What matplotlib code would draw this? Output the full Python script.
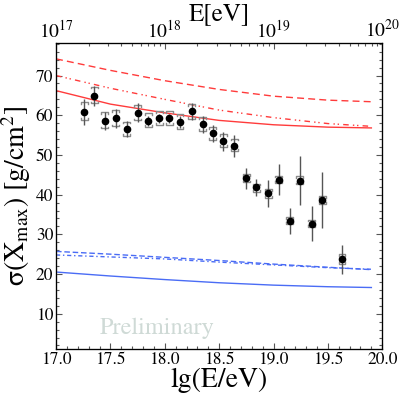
import matplotlib
matplotlib.use("Agg")
import matplotlib.pyplot as plt
import numpy as np
from matplotlib.ticker import MultipleLocator, FixedLocator, NullFormatter

plt.rcParams['font.family'] = ['STIXGeneral', 'DejaVu Serif']
plt.rcParams['mathtext.fontset'] = 'stix'

# ---- data ----
lgE = [17.26, 17.35, 17.45, 17.55, 17.65, 17.75, 17.85, 17.95, 18.04, 18.14,
       18.25, 18.35, 18.44, 18.54, 18.64, 18.75, 18.84, 18.95, 19.05, 19.15,
       19.24, 19.35, 19.45, 19.63]
sigma = [60.8, 64.9, 58.6, 59.2, 56.5, 60.6, 58.6, 59.2, 59.2, 58.3,
         61.0, 57.7, 55.4, 53.4, 52.3, 44.1, 41.8, 40.3, 43.8, 33.4,
         43.5, 32.7, 38.6, 23.7]
stat = [3.2, 2.5, 2.3, 2.3, 2.0, 2.4, 1.2, 1.2, 1.2, 1.5,
        2.1, 2.1, 2.1, 2.5, 2.7, 2.7, 2.2, 3.3, 4.0, 3.2,
        6.2, 4.5, 7.0, 3.6]
sys_up = [2.5, 2.3, 2.1, 2.0, 1.9, 2.0, 1.9, 1.9, 1.9, 1.9,
          1.9, 1.9, 1.7, 1.9, 1.8, 1.1, 1.0, 1.0, 1.0, 1.0,
          1.1, 1.0, 1.0, 1.3]
sys_lo = [1.9, 1.9, 1.9, 2.0, 1.7, 1.9, 1.5, 1.7, 1.7, 1.7,
          1.9, 1.7, 1.7, 1.4, 1.2, 1.0, 1.1, 1.1, 0.9, 0.8,
          0.9, 0.9, 0.9, 1.1]

model_lgE = [17.0, 17.5, 18.0, 18.5, 19.0, 19.5, 19.9]
p_solid = [66.2, 62.8, 60.6, 58.7, 57.6, 57.0, 56.8]
p_dashed = [74.2, 71.3, 68.7, 66.5, 64.8, 63.8, 63.4]
p_dashdot = [70.0, 66.8, 64.0, 61.3, 59.4, 57.9, 57.2]
fe_solid = [20.5, 19.5, 18.6, 17.8, 17.2, 16.8, 16.6]
fe_dashed = [25.7, 25.0, 24.2, 23.4, 22.5, 21.7, 21.1]
fe_dashdot = [24.8, 24.3, 23.8, 23.0, 22.3, 21.6, 21.2]

top_ticks = [17, 18, 19, 20]
top_labels = [r'$10^{17}$', r'$10^{18}$', r'$10^{19}$', r'$10^{20}$']

fig = plt.figure(figsize=(3.99, 3.98), dpi=100)
ax = fig.add_axes([0.1404, 0.123, 0.958 - 0.1404, 0.893 - 0.123])

red = '#ff3b3b'
blue = '#4a6cf5'
lw = 1.0
ax.plot(model_lgE, p_solid, color=red, lw=lw)
ax.plot(model_lgE, p_dashed, color=red, lw=lw, dashes=(5, 3))
ax.plot(model_lgE, p_dashdot, color=red, lw=lw, dashes=(4, 3, 1, 2, 1, 3))
ax.plot(model_lgE, fe_solid, color=blue, lw=lw)
ax.plot(model_lgE, fe_dashed, color=blue, lw=lw, dashes=(4, 2))
ax.plot(model_lgE, fe_dashdot, color=blue, lw=lw, dashes=(3, 2, 1, 2))

# systematic brackets
w = 0.032
h = 0.45
for x, y, su, sl in zip(lgE, sigma, sys_up, sys_lo):
    ax.plot([x - w, x - w, x + w, x + w], [y + su - h, y + su, y + su, y + su - h],
            color='#8a8a8a', lw=1.0, zorder=3)
    ax.plot([x - w, x - w, x + w, x + w], [y - sl + h, y - sl, y - sl, y - sl + h],
            color='#8a8a8a', lw=1.0, zorder=3)

ax.errorbar(lgE, sigma, yerr=stat, fmt='o', color='black', ms=4.5,
            ecolor='#555555', elinewidth=1.0, capsize=0, zorder=4)

ax.text(17.4, 6.4, 'Preliminary', fontsize=17.5, color='#cfdad6', ha='left', va='center')

ax.set_xlim(17.0, 20.0)
ax.set_ylim(1.1, 78.3)
ax.xaxis.set_major_locator(MultipleLocator(0.5))
ax.xaxis.set_minor_locator(MultipleLocator(0.1))
ax.yaxis.set_major_locator(MultipleLocator(10))
ax.yaxis.set_minor_locator(MultipleLocator(2))
ax.yaxis.set_major_formatter(plt.FuncFormatter(lambda v, p: '%d' % v))
ax.xaxis.set_major_formatter(plt.FuncFormatter(lambda v, p: '%.1f' % v))

ax.tick_params(which='both', direction='in', colors='#555555', labelcolor='black',
               top=False, right=True)
ax.tick_params(which='major', length=4, width=0.8, labelsize=12.5)
ax.tick_params(which='minor', length=2, width=0.8)
ax.tick_params(axis='x', pad=2)
ax.tick_params(axis='y', pad=2)
for s in ax.spines.values():
    s.set_color('#666666')
    s.set_linewidth(1.0)

# top axis (log energy)
ax2 = ax.twiny()
ax2.set_xlim(ax.get_xlim())
ax2.xaxis.set_major_locator(FixedLocator(top_ticks))
ax2.set_xticklabels(top_labels)
minor = [k + np.log10(m) for k in top_ticks[:-1] for m in range(2, 10)]
ax2.xaxis.set_minor_locator(FixedLocator(minor))
ax2.xaxis.set_minor_formatter(NullFormatter())
ax2.tick_params(which='both', direction='in', colors='#555555', labelcolor='black')
ax2.tick_params(which='major', length=4, width=0.8, labelsize=14, pad=1)
ax2.tick_params(which='minor', length=2, width=0.8)
ax2.set_xlabel('E[eV]', fontsize=18, labelpad=-1)

ax.set_xlabel('lg(E/eV)', fontsize=20, labelpad=0)
ax.set_ylabel(r'$\mathrm{\sigma(X_{max})\ [g/cm^2]}$', fontsize=20, labelpad=2)

fig.savefig('out.png', dpi=100)
